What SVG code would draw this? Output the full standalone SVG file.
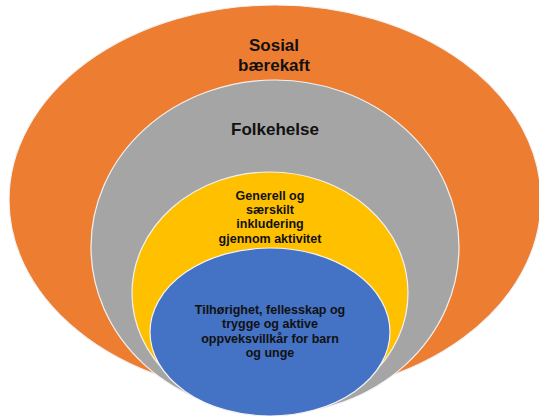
<svg xmlns="http://www.w3.org/2000/svg" width="539" height="416" viewBox="0 0 539 416">
<style>
.e{stroke:#f2f2f2;stroke-width:1.2}
.t{font-family:"Liberation Sans",Arial,sans-serif;font-weight:bold;fill:#111;text-anchor:middle}
.big{font-size:17px}
.sm{font-size:12.5px}
</style>
<rect width="539" height="416" fill="#fff"/>
<g id="sosial">
<ellipse class="e" cx="275" cy="200" rx="266" ry="195" fill="#ED7D31"/>
<text class="t big" x="274" y="51">Sosial</text>
<text class="t big" x="274" y="71">bærekaft</text>
</g>
<g id="folkehelse">
<ellipse class="e" cx="275" cy="247" rx="184" ry="167" fill="#A5A5A5"/>
<text class="t big" x="275" y="135">Folkehelse</text>
</g>
<g id="inkludering">
<ellipse class="e" cx="270" cy="293" rx="138" ry="121" fill="#FFC000"/>
<text class="t sm" x="270" y="200">Generell og</text>
<text class="t sm" x="270" y="214">særskilt</text>
<text class="t sm" x="270" y="228">inkludering</text>
<text class="t sm" x="270" y="243">gjennom aktivitet</text>
</g>
<g id="tilhorighet">
<ellipse class="e" cx="270" cy="332" rx="120" ry="84" fill="#4472C4"/>
<text class="t sm" x="270" y="314">Tilhørighet, fellesskap og</text>
<text class="t sm" x="270" y="328">trygge og aktive</text>
<text class="t sm" x="270" y="343">oppveksvillkår for barn</text>
<text class="t sm" x="270" y="357">og unge</text>
</g>
<g id="connectors"/>
</svg>
